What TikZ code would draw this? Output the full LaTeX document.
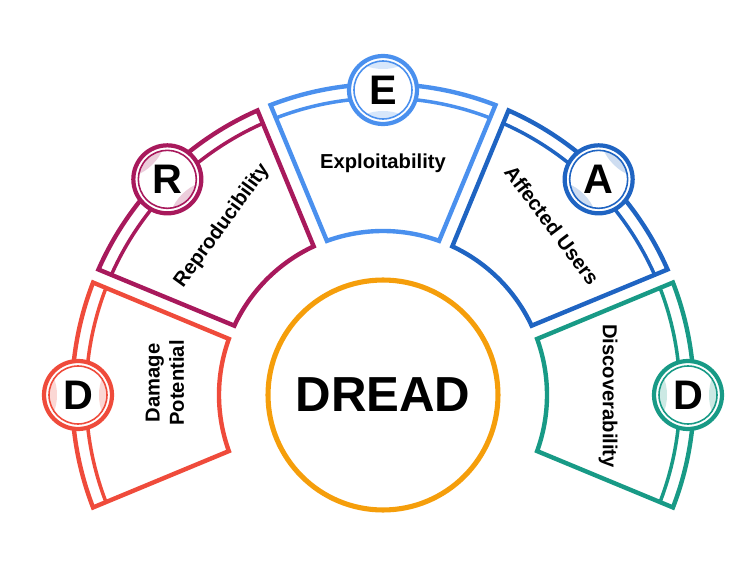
\documentclass[tikz,border=0pt]{standalone}
\usepackage{fontspec}
\setmainfont{Liberation Sans}
\usepackage{tikz}
\definecolor{damred}{HTML}{EF4B3B}
\definecolor{repro}{HTML}{A8195C}
\definecolor{explo}{HTML}{4A90EE}
\definecolor{affect}{HTML}{1F64C2}
\definecolor{disco}{HTML}{189A86}
\definecolor{dreadorange}{HTML}{F59E0B}

\tikzset{
  sectorline/.style={line width=2.5pt, line join=miter},
  bandline/.style={line width=2pt},
  lbl/.style={font=\fontsize{11.5}{13.8}\selectfont\bfseries, align=center, inner sep=0pt},
  letterring/.style={circle, draw=#1, line width=2.4pt, minimum size=1.36cm,
    inner sep=0pt, font=\fontsize{23.5}{23.5}\selectfont\bfseries}
}

\begin{document}
\begin{tikzpicture}[x=0.02cm, y=0.02cm]
  \useasboundingbox (-383,-180) rectangle (367,395);
  % the five sectors with their outer band
  \foreach \c/\col in {180/damred, 135/repro, 90/explo, 45/affect, 0/disco}{
    \draw[sectorline, \col] (\c-21.2:311) arc[start angle=\c-21.2, end angle=\c+21.2, radius=311]
      -- (\c+20:164) arc[start angle=\c+20, end angle=\c-20, radius=164] -- cycle;
    \draw[bandline, \col] (\c-21.1:297) arc[start angle=\c-21.1, end angle=\c+21.1, radius=297];
    % white disc, light crescents and thin inner ring under each letter
    \fill[white] (\c:305) circle[radius=34];
    \begin{scope}[shift={(\c:305)}, rotate=\c]
      \begin{scope}
        \clip (0,0) circle[radius=29];
        \fill[\col!22] (-71,0) circle[radius=50] (71,0) circle[radius=50];
      \end{scope}
      \draw[\col, line width=0.9pt] (0,0) circle[radius=29];
    \end{scope}
  }
%%%%%%%%%%%%%%%%%%%%%%%%%%%%%%%%%%%%%%%%%%%%%%%%%%%%%%%%%%%%%%%%%%%%%%%
  \node[letterring=damred] (dleft) at (180:305) {D};
  \node[letterring=repro] (r) at (135:305) {R};
  \node[letterring=explo] (e) at (90:305) {E};
  \node[letterring=affect] (a) at (45:305) {A};
  \node[letterring=disco] (dright) at (0:305) {D};
%%%%%%%%%%%%%%%%%%%%%%%%%%%%%%%%%%%%%%%%%%%%%%%%%%%%%%%%%%%%%%%%%%%%%%%
  \node[lbl, rotate=90] (damage) at (-218,12) {Damage\\Potential};
  \node[lbl, rotate=54] (reproducibility) at (-161,169) {Reproducibility};
  \node[lbl] (exploitability) at (0,232) {Exploitability};
  \node[lbl, rotate=-53] (affected) at (169,170) {Affected Users};
  \node[lbl, rotate=-90] (discoverability) at (225,-1) {Discoverability};
  % centre
  \node[circle, draw=dreadorange, line width=2.9pt, minimum size=4.6cm, inner sep=0pt,
    font=\fontsize{28}{28}\selectfont\bfseries] (dread) at (0,0) {DREAD};
\end{tikzpicture}
\end{document}
